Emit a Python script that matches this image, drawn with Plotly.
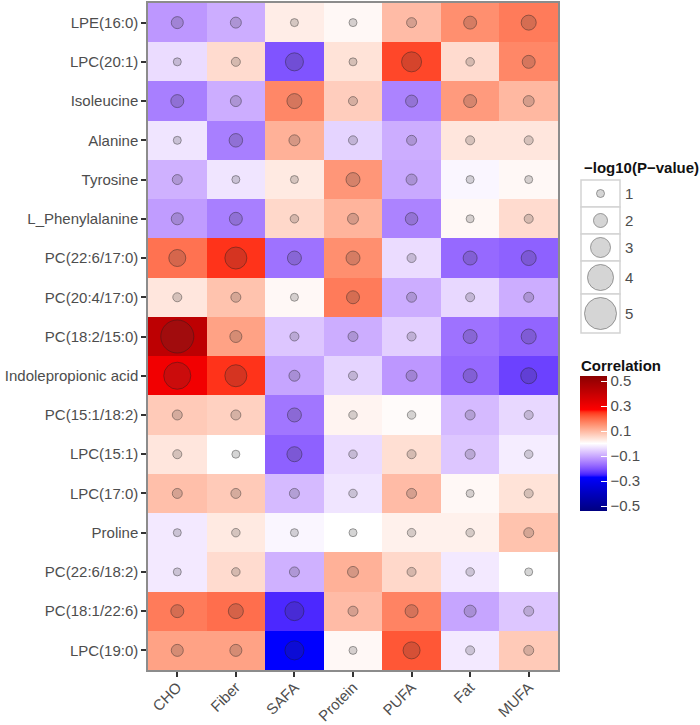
import plotly.graph_objects as go

# ---------------- data ----------------
metabolites = ["LPE(16:0)", "LPC(20:1)", "Isoleucine", "Alanine", "Tyrosine",
               "L_Phenylalanine", "PC(22:6/17:0)", "PC(20:4/17:0)", "PC(18:2/15:0)",
               "Indolepropionic acid", "PC(15:1/18:2)", "LPC(15:1)", "LPC(17:0)",
               "Proline", "PC(22:6/18:2)", "PC(18:1/22:6)", "LPC(19:0)"]
nutrients = ["CHO", "Fiber", "SAFA", "Protein", "PUFA", "Fat", "MUFA"]

corr_cho = [-0.12, -0.04, -0.15, -0.03, -0.09, -0.115, 0.19, 0.035, 0.42, 0.30, 0.075, 0.035, 0.09, -0.025, -0.025, 0.18, 0.13]
corr_fiber = [-0.095, 0.05, -0.095, -0.15, -0.03, -0.15, 0.25, 0.085, 0.13, 0.25, 0.065, 0.0, 0.075, 0.03, 0.05, 0.195, 0.13]
corr_safa = [0.025, -0.20, 0.165, 0.11, 0.03, 0.055, -0.165, 0.01, -0.065, -0.105, -0.16, -0.185, -0.08, -0.01, -0.09, -0.245, -0.27]
corr_protein = [0.01, 0.04, 0.07, -0.05, 0.145, 0.105, 0.155, 0.18, -0.095, -0.05, 0.015, -0.04, -0.03, 0.0, 0.11, 0.095, 0.01]
corr_pufa = [0.095, 0.235, -0.145, -0.095, -0.10, -0.145, -0.04, -0.095, -0.055, -0.12, 0.005, 0.045, 0.095, 0.02, 0.055, 0.17, 0.22]
corr_fat = [0.155, 0.05, 0.14, 0.035, -0.01, 0.01, -0.175, -0.045, -0.165, -0.175, -0.08, -0.065, 0.01, 0.02, -0.025, -0.105, -0.025]
corr_mufa = [0.18, 0.165, 0.10, 0.035, 0.01, 0.05, -0.185, -0.095, -0.18, -0.22, -0.045, -0.02, 0.04, 0.085, 0.0, -0.065, 0.075]

logp_cho = [1.67, 1.0, 1.83, 1.0, 1.33, 1.67, 2.5, 1.17, 5.17, 4.17, 1.33, 1.17, 1.33, 1.0, 1.0, 1.83, 1.67]
logp_fiber = [1.5, 1.17, 1.5, 1.92, 1.0, 1.83, 3.33, 1.33, 1.67, 3.33, 1.33, 1.0, 1.33, 1.08, 1.08, 2.17, 1.67]
logp_safa = [1.0, 2.67, 2.17, 1.5, 1.0, 1.08, 2.0, 1.0, 1.17, 1.5, 2.0, 2.17, 1.33, 1.0, 1.33, 2.83, 2.83]
logp_protein = [1.0, 1.0, 1.17, 1.17, 2.0, 1.5, 2.0, 1.83, 1.33, 1.17, 1.08, 1.08, 1.08, 1.0, 1.5, 1.33, 1.0]
logp_pufa = [1.33, 3.0, 1.67, 1.33, 1.5, 1.75, 1.17, 1.33, 1.17, 1.5, 1.08, 1.17, 1.33, 1.08, 1.17, 1.83, 2.5]
logp_fat = [1.83, 1.08, 1.83, 1.17, 1.0, 1.0, 2.0, 1.17, 2.0, 2.0, 1.33, 1.33, 1.0, 1.08, 1.08, 1.67, 1.17]
logp_mufa = [2.17, 1.83, 1.5, 1.17, 1.0, 1.17, 2.17, 1.33, 2.17, 2.33, 1.17, 1.08, 1.17, 1.33, 1.0, 1.33, 1.33]

size_legend_values = [1, 2, 3, 4, 5]
cbar_ticks = [-0.5, -0.3, -0.1, 0.1, 0.3, 0.5]
cbar_ticktext = ["\u22120.5", "\u22120.3", "\u22120.1", "0.1", "0.3", "0.5"]
corr_limits = [-0.54, 0.54]
anchor_colors = ["#000080", "#0000ff", "#ffffff", "#ff0000", "#8b0000"]

corr_cols = [corr_cho, corr_fiber, corr_safa, corr_protein, corr_pufa, corr_fat, corr_mufa]
logp_cols = [logp_cho, logp_fiber, logp_safa, logp_protein, logp_pufa, logp_fat, logp_mufa]

# ---------------- Lab-interpolated colour scale (ggplot style) ----------------
def hex_to_rgb(h):
    h = h.lstrip("#")
    return [int(h[i:i + 2], 16) / 255 for i in (0, 2, 4)]

def to_lin(c):
    return c / 12.92 if c <= 0.04045 else ((c + 0.055) / 1.055) ** 2.4

def to_srgb(c):
    c = min(max(c, 0.0), 1.0)
    return 12.92 * c if c <= 0.0031308 else 1.055 * c ** (1 / 2.4) - 0.055

WX, WY, WZ = 0.95047, 1.0, 1.08883

def rgb_to_lab(rgb):
    r, g, b = [to_lin(c) for c in rgb]
    X = 0.4124 * r + 0.3576 * g + 0.1805 * b
    Y = 0.2126 * r + 0.7152 * g + 0.0722 * b
    Z = 0.0193 * r + 0.1192 * g + 0.9505 * b
    def f(t):
        return t ** (1 / 3) if t > 0.008856 else 7.787 * t + 16 / 116
    fx, fy, fz = f(X / WX), f(Y / WY), f(Z / WZ)
    return [116 * fy - 16, 500 * (fx - fy), 200 * (fy - fz)]

def lab_to_rgb(lab):
    L, a, b = lab
    fy = (L + 16) / 116
    fx = fy + a / 500
    fz = fy - b / 200
    def finv(t):
        return t ** 3 if t ** 3 > 0.008856 else (t - 16 / 116) / 7.787
    X, Y, Z = WX * finv(fx), WY * finv(fy), WZ * finv(fz)
    r = 3.2406 * X - 1.5372 * Y - 0.4986 * Z
    g = -0.9689 * X + 1.8758 * Y + 0.0415 * Z
    bb = 0.0557 * X - 0.2040 * Y + 1.0570 * Z
    return "rgb(%d,%d,%d)" % tuple(round(255 * to_srgb(c)) for c in (r, g, bb))

labs = [rgb_to_lab(hex_to_rgb(c)) for c in anchor_colors]
colorscale = []
nseg = len(labs) - 1
steps = 16
for s in range(nseg):
    for k in range(steps + (1 if s == nseg - 1 else 0)):
        t = k / steps
        lab = [labs[s][i] + (labs[s + 1][i] - labs[s][i]) * t for i in range(3)]
        colorscale.append([(s + t) / nseg, lab_to_rgb(lab)])

# ---------------- geometry (pixels) ----------------
W, H = 700, 725
L_M, R_M, T_M, B_M = 148, 0, 3, 55
PW, PH = W - L_M - R_M, H - T_M - B_M
PANEL_RIGHT = 558

def px(x):
    return (x - L_M) / PW

def py(y):
    return (H - B_M - y) / PH

def diam(v):
    return 2 + 6 * v

FONT = "Liberation Sans, Arial, sans-serif"
TXT = "#4d4d4d"
CIRCLE_FILL = "rgba(60,60,60,0.3)"
CIRCLE_LINE = "rgba(30,30,30,0.6)"

z = [[corr_cols[j][i] for j in range(len(nutrients))] for i in range(len(metabolites))]

fig = go.Figure()
fig.add_trace(go.Heatmap(
    z=z, x=nutrients, y=metabolites,
    zmin=corr_limits[0], zmax=corr_limits[1], colorscale=colorscale,
    xgap=0, ygap=0, hoverinfo="skip",
    colorbar=dict(
        x=px(580), xanchor="left", xpad=0,
        y=py((376 + 511) / 2), yanchor="middle", ypad=0,
        len=135, lenmode="pixels", thickness=27, thicknessmode="pixels",
        outlinewidth=0, tickvals=cbar_ticks, ticktext=cbar_ticktext,
        ticks="inside", ticklen=6, tickcolor="white", tickwidth=1,
        tickfont=dict(family=FONT, size=15, color=TXT),
    ),
))

xs, ys, ss = [], [], []
for j, n in enumerate(nutrients):
    for i, m in enumerate(metabolites):
        xs.append(n)
        ys.append(m)
        ss.append(diam(logp_cols[j][i]))
fig.add_trace(go.Scatter(
    x=xs, y=ys, mode="markers", hoverinfo="skip", showlegend=False,
    marker=dict(size=ss, color=CIRCLE_FILL, line=dict(color=CIRCLE_LINE, width=1)),
))

# ---------------- size legend ----------------
LEG_X0, LEG_X1, LEG_Y0 = 581, 620, 180
tops, bots = [], []
y = LEG_Y0
for v in size_legend_values:
    h = max(27, diam(v) + 7)
    tops.append(y)
    bots.append(y + h)
    y += h
leg_y_mid = [(a + b) / 2 for a, b in zip(tops, bots)]

shapes = []
for a, b in zip(tops, bots):
    shapes.append(dict(type="rect", xref="paper", yref="paper",
                       x0=px(LEG_X0), x1=px(LEG_X1), y0=py(b), y1=py(a),
                       line=dict(color="#d3d3d3", width=1.5), fillcolor="white", layer="below"))

fig.add_trace(go.Scatter(
    x=[(LEG_X0 + LEG_X1) / 2] * len(size_legend_values), y=leg_y_mid,
    xaxis="x2", yaxis="y2", mode="markers", hoverinfo="skip", showlegend=False,
    marker=dict(size=[diam(v) for v in size_legend_values], color=CIRCLE_FILL,
                line=dict(color=CIRCLE_LINE, width=1)),
))

annotations = []
for v, ym in zip(size_legend_values, leg_y_mid):
    annotations.append(dict(text=str(v), xref="paper", yref="paper", x=px(LEG_X1 + 3), y=py(ym),
                            xanchor="left", yanchor="middle", showarrow=False,
                            font=dict(family=FONT, size=15, color=TXT)))
annotations.append(dict(text="<b>\u2212log10(P\u2212value)</b>", xref="paper", yref="paper",
                        x=px(582), y=py(167), xanchor="left", yanchor="middle", showarrow=False,
                        font=dict(family=FONT, size=15, color="#111")))
annotations.append(dict(text="<b>Correlation</b>", xref="paper", yref="paper",
                        x=px(579), y=py(365), xanchor="left", yanchor="middle", showarrow=False,
                        font=dict(family=FONT, size=15, color="#111")))

fig.update_layout(
    width=W, height=H, margin=dict(l=L_M, r=R_M, t=T_M, b=B_M, pad=0, autoexpand=False),
    paper_bgcolor="white", plot_bgcolor="white", showlegend=False,
    xaxis=dict(domain=[0, px(PANEL_RIGHT)], type="category", categoryorder="array",
               categoryarray=nutrients, range=[-0.5, len(nutrients) - 0.5], autorange=False,
               tickangle=-45, ticks="outside", ticklen=5, automargin=False,
               ticklabelstandoff=-4,
               tickwidth=1.5, tickcolor="#333", showline=True, mirror=True,
               linecolor="#8c8c8c", linewidth=1.5, showgrid=False, zeroline=False,
               tickfont=dict(family=FONT, size=15, color=TXT)),
    yaxis=dict(domain=[0, 1], type="category", categoryorder="array",
               categoryarray=metabolites, range=[len(metabolites) - 0.5, -0.5], autorange=False,
               ticks="outside", automargin=False,
               ticklen=5, tickwidth=1.5, tickcolor="#333", showline=True, mirror=True,
               linecolor="#8c8c8c", linewidth=1.5, showgrid=False, zeroline=False,
               tickfont=dict(family=FONT, size=15, color=TXT)),
    xaxis2=dict(domain=[px(LEG_X0), px(LEG_X1)], range=[LEG_X0, LEG_X1], visible=False,
                anchor="y2", fixedrange=True),
    yaxis2=dict(domain=[py(bots[-1]), py(tops[0])], range=[bots[-1], tops[0]], visible=False,
                anchor="x2", fixedrange=True),
    shapes=shapes, annotations=annotations,
)

fig.write_html("out.html", config={"displayModeBar": False},
               post_script="document.body.style.margin='0px';")
